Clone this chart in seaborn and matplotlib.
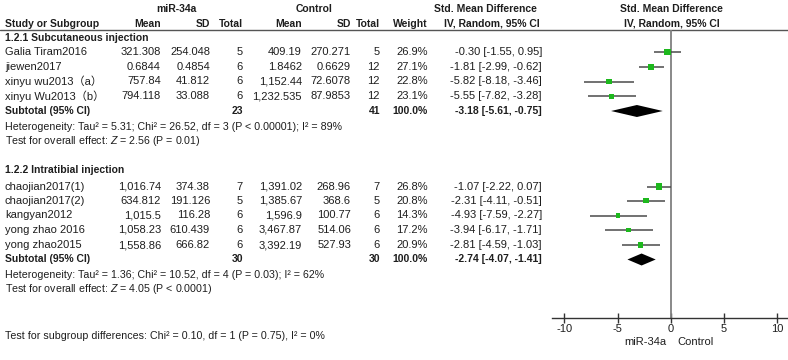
import matplotlib
matplotlib.use('Agg')
import numpy as np
import pandas as pd
import matplotlib.pyplot as plt
import seaborn as sns

# ==========================================
# DATA
# ==========================================
studies_1 = ["Galia Tiram2016", "jiewen2017", "xinyu wu2013（a）", "xinyu Wu2013（b）"]
mean_t_1 = ["321.308", "0.6844", "757.84", "794.118"]
sd_t_1 = ["254.048", "0.4854", "41.812", "33.088"]
n_t_1 = [5, 6, 6, 6]
mean_c_1 = ["409.19", "1.8462", "1,152.44", "1,232.535"]
sd_c_1 = ["270.271", "0.6629", "72.6078", "87.9853"]
n_c_1 = [5, 12, 12, 12]
weight_1 = [26.9, 27.1, 22.8, 23.1]
smd_1 = [-0.30, -1.81, -5.82, -5.55]
lo_1 = [-1.55, -2.99, -8.18, -7.82]
hi_1 = [0.95, -0.62, -3.46, -3.28]
subtotal_1 = (-3.18, -5.61, -0.75)
het_1 = "Heterogeneity: Tau² = 5.31; Chi² = 26.52, df = 3 (P < 0.00001); I² = 89%"
eff_1 = ("2.56", "(P = 0.01)")

studies_2 = ["chaojian2017(1)", "chaojian2017(2)", "kangyan2012", "yong zhao 2016", "yong zhao2015"]
mean_t_2 = ["1,016.74", "634.812", "1,015.5", "1,058.23", "1,558.86"]
sd_t_2 = ["374.38", "191.126", "116.28", "610.439", "666.82"]
n_t_2 = [7, 5, 6, 6, 6]
mean_c_2 = ["1,391.02", "1,385.67", "1,596.9", "3,467.87", "3,392.19"]
sd_c_2 = ["268.96", "368.6", "100.77", "514.06", "527.93"]
n_c_2 = [7, 5, 6, 6, 6]
weight_2 = [26.8, 20.8, 14.3, 17.2, 20.9]
smd_2 = [-1.07, -2.31, -4.93, -3.94, -2.81]
lo_2 = [-2.22, -4.11, -7.59, -6.17, -4.59]
hi_2 = [0.07, -0.51, -2.27, -1.71, -1.03]
subtotal_2 = (-2.74, -4.07, -1.41)
het_2 = "Heterogeneity: Tau² = 1.36; Chi² = 10.52, df = 4 (P = 0.03); I² = 62%"
eff_2 = ("4.05", "(P < 0.0001)")

subgroup_test = "Test for subgroup differences: Chi² = 0.10, df = 1 (P = 0.75), I² = 0%"
x_ticks = [-10, -5, 0, 5, 10]

# ==========================================
# LAYOUT (pixel rows / columns)
# ==========================================
W, H = 788, 360
ROWS_1 = [52, 66.8, 81.5, 96.3]
ROWS_2 = [186.5, 200.5, 215.5, 230, 245]
COLS = {'mt': 161, 'st': 210, 'nt': 243, 'mc': 302, 'sc': 351, 'nc': 380, 'w': 428, 'ci': 542}
X0_PX, PX_PER_UNIT = 670.7, 10.63
AXIS_Y, TOP_Y = 317.5, 30
TXT = '#1e1e1e'

sns.set_theme(style='white')
plt.rcParams['font.family'] = ['Liberation Sans', 'Noto Sans CJK SC', 'DejaVu Sans']
plt.rcParams['mathtext.fontset'] = 'custom'
plt.rcParams['mathtext.it'] = 'Liberation Sans:italic'
plt.rcParams['mathtext.rm'] = 'Liberation Sans'
FS = 8
FS_BOLD = 7.5
FS_LONG = 7.7

fig = plt.figure(figsize=(W / 100, H / 100), dpi=100)
ax_t = fig.add_axes([0, 0, 1, 1])
ax_t.set_xlim(0, W)
ax_t.set_ylim(H, 0)
ax_t.axis('off')


def put(x, y, s, ha='right', bold=False, fs=None):
    size = fs if fs else (FS_BOLD if bold else FS)
    ax_t.text(x, y, s, ha=ha, va='center', fontsize=size, color=TXT,
              fontweight='bold' if bold else 'normal')


# headers
put(176, 9, "miR-34a", ha='center', bold=True)
put(314, 9, "Control", ha='center', bold=True)
put(485, 9, "Std. Mean Difference", ha='center', bold=True)
put(671, 9, "Std. Mean Difference", ha='center', bold=True)
put(5, 24, "Study or Subgroup", ha='left', bold=True)
for key, lab in zip(['mt', 'st', 'nt', 'mc', 'sc', 'nc', 'w'],
                    ["Mean", "SD", "Total", "Mean", "SD", "Total", "Weight"]):
    put(COLS[key], 24, lab, bold=True)
put(492, 24, "IV, Random, 95% CI", ha='center', bold=True)
put(672, 24, "IV, Random, 95% CI", ha='center', bold=True)
ax_t.axhline(TOP_Y, color='#555555', lw=1)


def block(title, ty, rows, studies, mt, st, nt, mc, sc, nc, w, smd, lo, hi, sub, sub_y,
          het, het_y, eff, eff_y):
    put(5, ty, title, ha='left', bold=True)
    for i, r in enumerate(rows):
        put(5, r, studies[i], ha='left')
        put(COLS['mt'], r, mt[i])
        put(COLS['st'], r, st[i])
        put(COLS['nt'], r, str(nt[i]))
        put(COLS['mc'], r, mc[i])
        put(COLS['sc'], r, sc[i])
        put(COLS['nc'], r, str(nc[i]))
        put(COLS['w'], r, f"{w[i]:.1f}%")
        put(COLS['ci'], r, f"{smd[i]:.2f} [{lo[i]:.2f}, {hi[i]:.2f}]")
    put(5, sub_y, "Subtotal (95% CI)", ha='left', bold=True)
    put(COLS['nt'], sub_y, str(sum(nt)), bold=True)
    put(COLS['nc'], sub_y, str(sum(nc)), bold=True)
    put(COLS['w'], sub_y, "100.0%", bold=True)
    put(COLS['ci'], sub_y, f"{sub[0]:.2f} [{sub[1]:.2f}, {sub[2]:.2f}]", bold=True)
    put(5, het_y, het, ha='left', fs=FS_LONG)
    put(5, eff_y, f"Test for overall effect: $Z$ = {eff[0]} {eff[1]}", ha='left', fs=FS_LONG)


block("1.2.1 Subcutaneous injection", 38, ROWS_1, studies_1, mean_t_1, sd_t_1, n_t_1,
      mean_c_1, sd_c_1, n_c_1, weight_1, smd_1, lo_1, hi_1, subtotal_1, 111,
      het_1, 126.5, eff_1, 141)
block("1.2.2 Intratibial injection", 170, ROWS_2, studies_2, mean_t_2, sd_t_2, n_t_2,
      mean_c_2, sd_c_2, n_c_2, weight_2, smd_2, lo_2, hi_2, subtotal_2, 259.5,
      het_2, 275, eff_2, 289.5)
put(5, 336, subgroup_test, ha='left', fs=FS_LONG)
put(666, 341.7, "miR-34a")
put(677, 341.7, "Control", ha='left')

# ==========================================
# FOREST PANEL
# ==========================================
left_px = 552
ax_f = fig.add_axes([left_px / W, (H - AXIS_Y) / H, (W - left_px) / W, (AXIS_Y - TOP_Y) / H])
ax_f.set_xlim(-(X0_PX - left_px) / PX_PER_UNIT, (W - X0_PX) / PX_PER_UNIT)
ax_f.set_ylim(AXIS_Y, TOP_Y)
ax_f.patch.set_alpha(0)

df = pd.DataFrame({
    'smd': smd_1 + smd_2,
    'lo': lo_1 + lo_2,
    'hi': hi_1 + hi_2,
    'weight': weight_1 + weight_2,
    'row': ROWS_1 + ROWS_2,
})

ax_f.axvline(0, color='#808080', lw=1.3, zorder=1)
ax_f.hlines(df['row'], df['lo'], df['hi'], color='#4a4a4a', lw=1.1, zorder=2)
sns.scatterplot(data=df, x='smd', y='row', size='weight', sizes=(0, 21), size_norm=(0, 30),
                marker='s', color='#1db81d', edgecolor='none', legend=False, ax=ax_f, zorder=3)

for (est, lo, hi), r in [(subtotal_1, 111), (subtotal_2, 259.5)]:
    ax_f.fill([lo, est, hi, est], [r, r - 6, r, r + 6], color='black', lw=0, zorder=3)

for s in ['top', 'left', 'right']:
    ax_f.spines[s].set_visible(False)
ax_f.spines['bottom'].set_color('#333333')
ax_f.spines['bottom'].set_linewidth(1)
ax_f.set_yticks([])
ax_f.set_xticks(x_ticks)
ax_f.set_xticklabels([str(t) for t in x_ticks])
ax_f.tick_params(axis='x', direction='inout', length=7, width=1, color='#333333',
                 labelsize=FS, labelcolor=TXT, pad=1, bottom=True)
ax_f.set_xlabel('')
ax_f.set_ylabel('')

plt.savefig('out.png', dpi=100)
